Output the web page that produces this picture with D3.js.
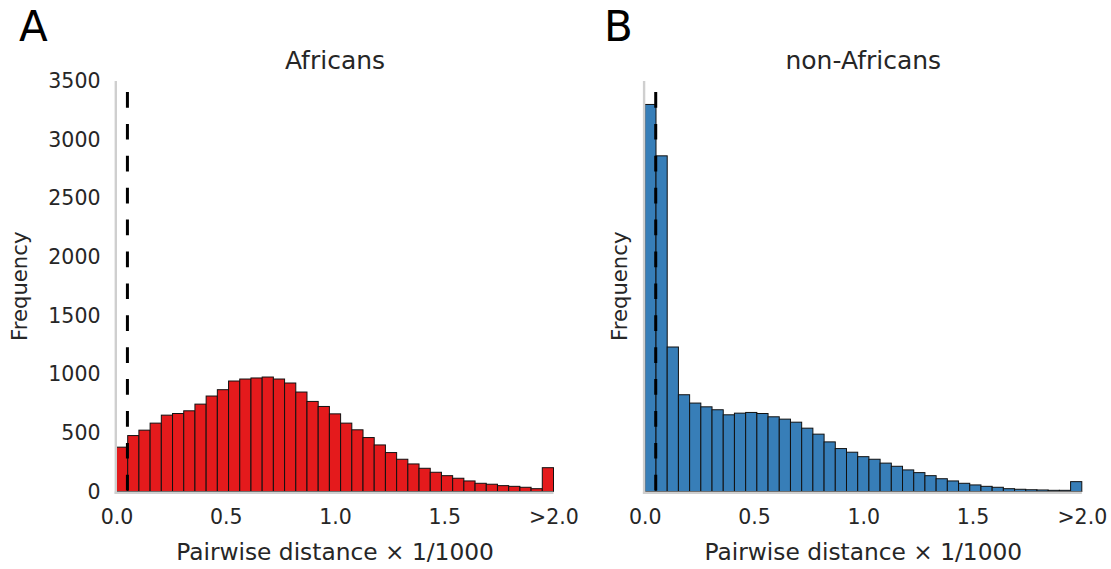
<!DOCTYPE html>
<html>
<head>
<meta charset="utf-8">
<script src="https://cdn.jsdelivr.net/npm/d3@7"></script>
<style>
  body { margin: 0; background: #fff; }
  text { font-family: "DejaVu Sans", sans-serif; }
</style>
</head>
<body>
<div class="container"></div>
<script>
// histogram counts, 39 bins over 0..2 (last bin holds everything > 2.0)
var africans = [378, 477, 523, 583, 651, 665, 688, 745, 814, 868,
  942, 959, 968, 976, 959, 925, 848, 768, 725, 662,
  583, 526, 460, 397, 332, 275, 235, 198, 164, 135,
  113, 90, 70, 62, 50, 44, 36, 24, 203];
var nonAfricans = [3300, 2862, 1232, 825, 754, 722, 697, 654, 668, 674,
  665, 637, 617, 591, 540, 489, 423, 366, 335, 297,
  275, 242, 215, 184, 161, 135, 109, 90, 70, 56,
  44, 36, 24, 19, 15, 13, 10, 10, 84];
var nBins = 39, xMax = 2;
var cutoff = 0.05;
var xTicks = [0, 0.5, 1, 1.5, 2];
var xTickLabels = ["0.0", "0.5", "1.0", "1.5", ">2.0"];
var yTicks = [0, 500, 1000, 1500, 2000, 2500, 3000, 3500];

var width = 1111, height = 569;
var plotW = 437, plotTop = 81, plotBottom = 491.5;

var svg = d3.select(".container").append("svg")
  .attr("width", width)
  .attr("height", height);

var y = d3.scaleLinear().domain([0, 3500]).range([plotBottom, plotTop]);

var panels = [
  { x0: 116.5, letter: "A", letterX: 19, ylabX: 27, title: "Africans", data: africans, color: "#e41a1c", labels: true },
  { x0: 644.8, letter: "B", letterX: 604, ylabX: 627, title: "non-Africans", data: nonAfricans, color: "#377eb8", labels: false }
];

panels.forEach(function (p) {
  var x = d3.scaleLinear().domain([0, xMax]).range([p.x0, p.x0 + plotW]);
  var g = svg.append("g");
  var binW = xMax / nBins;

  // bars
  g.selectAll("rect.bar")
    .data(p.data)
    .enter().append("rect")
    .attr("class", "bar")
    .attr("x", function (d, i) { return x(i * binW); })
    .attr("y", function (d) { return y(d); })
    .attr("width", function (d, i) { return x((i + 1) * binW) - x(i * binW); })
    .attr("height", function (d) { return y(0) - y(d); })
    .attr("fill", p.color)
    .attr("stroke", "#111")
    .attr("stroke-width", 1);

  // spines
  g.append("line")
    .attr("x1", p.x0 - 0.7).attr("x2", p.x0 - 0.7)
    .attr("y1", plotTop).attr("y2", plotBottom + 2.3)
    .attr("stroke", "#cfcfcf").attr("stroke-width", 2.4);
  g.append("line")
    .attr("x1", p.x0 - 1.9).attr("x2", p.x0 + plotW)
    .attr("y1", plotBottom + 1.2).attr("y2", plotBottom + 1.2)
    .attr("stroke", "#cfcfcf").attr("stroke-width", 2.4);

  // cutoff line
  g.append("line")
    .attr("x1", x(cutoff)).attr("x2", x(cutoff))
    .attr("y1", 92).attr("y2", plotBottom)
    .attr("stroke", "#000").attr("stroke-width", 3)
    .attr("stroke-dasharray", "15.7,16.2");

  // x axis
  var xAxis = d3.axisBottom(x)
    .tickValues(xTicks)
    .tickFormat(function (d, i) { return xTickLabels[i]; })
    .tickSize(0).tickPadding(18);
  var xg = g.append("g").attr("transform", "translate(0," + plotBottom + ")").call(xAxis);
  xg.select(".domain").remove();
  xg.selectAll("text").attr("font-size", 20.5).attr("fill", "#262626")
    .attr("font-family", "DejaVu Sans");

  // y axis
  if (p.labels) {
    var yAxis = d3.axisLeft(y).tickValues(yTicks).tickFormat(d3.format("d"))
      .tickSize(0).tickPadding(16);
    var yg = g.append("g").attr("transform", "translate(" + p.x0 + ",0)").call(yAxis);
    yg.select(".domain").remove();
    yg.selectAll("text").attr("font-size", 20.5).attr("fill", "#262626")
      .attr("font-family", "DejaVu Sans");
  }

  // labels
  g.append("text")
    .attr("x", p.x0 + plotW / 2).attr("y", 560)
    .attr("text-anchor", "middle")
    .attr("font-size", 23.3).attr("fill", "#262626")
    .text("Pairwise distance \u00d7 1/1000");

  g.append("text")
    .attr("transform", "translate(" + p.ylabX + "," + ((plotTop + plotBottom) / 2) + ") rotate(-90)")
    .attr("text-anchor", "middle")
    .attr("font-size", 21.2).attr("fill", "#262626")
    .text("Frequency");

  g.append("text")
    .attr("x", p.x0 + plotW / 2).attr("y", 69)
    .attr("text-anchor", "middle")
    .attr("font-size", 25).attr("fill", "#262626")
    .text(p.title);

  g.append("text")
    .attr("x", p.letterX).attr("y", 40.7)
    .attr("font-size", 42).attr("fill", "#000")
    .text(p.letter);
});
</script>
</body>
</html>
